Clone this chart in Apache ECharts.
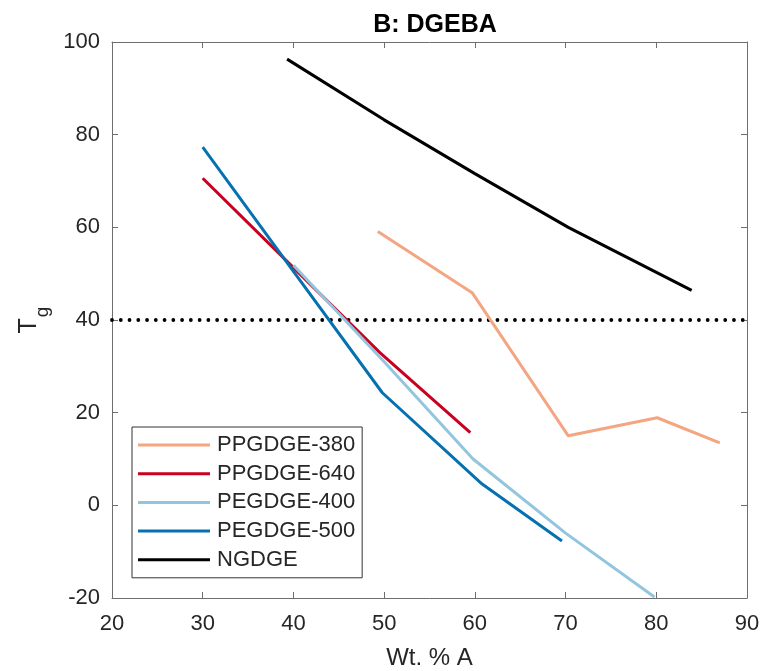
<!DOCTYPE html>
<html><head><meta charset="utf-8">
<script src="https://cdn.jsdelivr.net/npm/echarts@6/dist/echarts.min.js"></script>
<style>html,body{margin:0;padding:0;background:#fff}#c{width:762px;height:671px}</style>
</head><body><div id="c"></div>
<script>
const seriesNames = ['PPGDGE-380','PPGDGE-640','PEGDGE-400','PEGDGE-500','NGDGE'];
const ppg380X = [49.3, 59.7, 70.3, 80.1, 87.0];
const ppg380Y = [59.1, 45.9, 15.0, 18.9, 13.5];
const ppg640X = [30.0, 40.0, 49.5, 59.5];
const ppg640Y = [70.6, 51.3, 33.0, 15.7];
const peg400X = [40.0, 50.0, 59.8, 70.0, 79.8];
const peg400Y = [51.8, 31.0, 10.0, -6.0, -19.8];
const peg500X = [30.0, 40.0, 49.8, 60.8, 69.6];
const peg500Y = [77.3, 50.5, 24.3, 4.6, -7.7];
const ngdgeX = [39.3, 50.0, 60.0, 70.3, 83.9];
const ngdgeY = [96.3, 83.2, 71.6, 60.0, 46.4];
const thresholdX = [20, 90];
const thresholdY = [40, 40];
const colors = ['#F4A582','#CA0020','#92C5DE','#0571B0','#000000'];

const zip = (xs, ys) => xs.map((x, i) => [x, ys[i]]);
const allX = [ppg380X, ppg640X, peg400X, peg500X, ngdgeX];
const allY = [ppg380Y, ppg640Y, peg400Y, peg500Y, ngdgeY];
const font = 'Liberation Sans, Arial, sans-serif';
const axisCol = '#6e6e6e';
const txtCol = '#262626';

const series = seriesNames.map((n, i) => ({
  name: n, type: 'line', data: zip(allX[i], allY[i]), symbol: 'none',
  lineStyle: { color: colors[i], width: 3 }, itemStyle: { color: colors[i] },
  z: 3, animation: false
}));
series.push({
  name: 'threshold', type: 'line', data: zip(thresholdX, thresholdY), symbol: 'none', silent: true,
  lineStyle: { color: '#000', width: 3.8, type: [0.01, 8.75], cap: 'round' }, z: 2, animation: false
});

const chart = echarts.init(document.getElementById('c'), null, { renderer: 'canvas' });
chart.setOption({
  animation: false,
  backgroundColor: '#fff',
  title: { text: 'B: DGEBA', left: 430, top: 8, textAlign: 'center',
    textStyle: { fontFamily: font, fontWeight: 'bold', fontSize: 25, color: '#000' } },
  grid: { left: 112, right: 15, top: 42, bottom: 73, containLabel: false, outerBoundsMode: 'none' },
  legend: {
    data: seriesNames, orient: 'vertical', left: 132, top: 427,
    icon: 'rect', itemWidth: 72, itemHeight: 3, itemGap: 6.7,
    padding: [7, 7, 7, 6], borderColor: '#333', borderWidth: 1, backgroundColor: '#fff',
    textStyle: { fontFamily: font, fontSize: 22, color: txtCol, padding: [0, 0, 0, 2] }
  },
  xAxis: [{
    type: 'value', min: 20, max: 90, interval: 10, position: 'bottom',
    name: 'Wt. % A', nameLocation: 'middle', nameGap: 48,
    nameTextStyle: { fontFamily: font, fontSize: 24, color: txtCol },
    axisLine: { show: true, onZero: false, lineStyle: { color: axisCol, width: 1 } },
    axisTick: { show: true, inside: true, length: 6, lineStyle: { color: axisCol } },
    axisLabel: { fontFamily: font, fontSize: 22, color: txtCol, margin: 15 },
    splitLine: { show: false }
  }, {
    type: 'value', min: 20, max: 90, interval: 10, position: 'top',
    axisLine: { show: true, onZero: false, lineStyle: { color: axisCol, width: 1 } },
    axisTick: { show: true, inside: true, length: 6, lineStyle: { color: axisCol } },
    axisLabel: { show: false }, splitLine: { show: false }
  }],
  yAxis: [{
    type: 'value', min: -20, max: 100, interval: 20, position: 'left',
    name: '{t|T}{s|g}', nameLocation: 'middle', nameGap: 60, nameRotate: 90,
    nameTextStyle: { fontFamily: font, color: txtCol,
      rich: { t: { fontFamily: font, fontSize: 25, color: txtCol, padding: [0, 1, 10, 0] },
              s: { fontFamily: font, fontSize: 19, color: txtCol, verticalAlign: 'bottom' } } },
    axisLine: { show: true, onZero: false, lineStyle: { color: axisCol, width: 1 } },
    axisTick: { show: true, inside: true, length: 6, lineStyle: { color: axisCol } },
    axisLabel: { fontFamily: font, fontSize: 22, color: txtCol, margin: 12 },
    splitLine: { show: false }
  }, {
    type: 'value', min: -20, max: 100, interval: 20, position: 'right',
    axisLine: { show: true, onZero: false, lineStyle: { color: axisCol, width: 1 } },
    axisTick: { show: true, inside: true, length: 6, lineStyle: { color: axisCol } },
    axisLabel: { show: false }, splitLine: { show: false }
  }],
  series: series
});
</script></body></html>
